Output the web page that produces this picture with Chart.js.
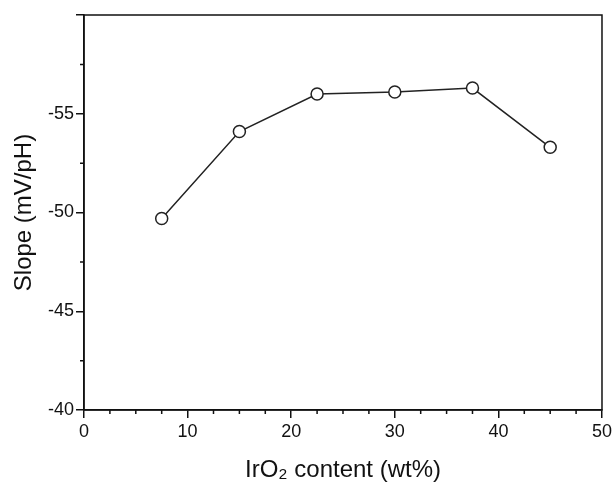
<!DOCTYPE html>
<html>
<head>
<meta charset="utf-8">
<script src="https://cdn.jsdelivr.net/npm/chart.js@4"></script>
<style>
  body { margin: 0; background: #fff; }
</style>
</head>
<body>
<canvas id="myChart" width="615" height="482"></canvas>
<script>
const irContent = [7.5, 15, 22.5, 30, 37.5, 45];
const slopeValues = [-49.7, -54.1, -56.0, -56.1, -56.3, -53.3];
const xTickLabels = [0, 10, 20, 30, 40, 50];
const yTickLabels = [-40, -45, -50, -55];
const yMajorTicks = [-40, -45, -50, -55, -60];

// box around the plot + short minor ticks
const frame = {
    id: 'frame',
    afterDraw(chart) {
        const { ctx, chartArea, scales } = chart;
        ctx.save();
        ctx.strokeStyle = '#111';
        ctx.lineWidth = 1.5;
        ctx.strokeRect(chartArea.left, chartArea.top, chartArea.right - chartArea.left, chartArea.bottom - chartArea.top);
        ctx.beginPath();
        scales.x.ticks.forEach((t) => {
            if (xTickLabels.includes(t.value)) return;
            const px = scales.x.getPixelForValue(t.value);
            ctx.moveTo(px, chartArea.bottom);
            ctx.lineTo(px, chartArea.bottom + 4);
        });
        scales.y.ticks.forEach((t) => {
            if (yMajorTicks.includes(t.value)) return;
            const py = scales.y.getPixelForValue(t.value);
            ctx.moveTo(chartArea.left, py);
            ctx.lineTo(chartArea.left - 4, py);
        });
        ctx.stroke();
        ctx.restore();
    }
};

const ctx = document.getElementById('myChart');
const font = "'Liberation Sans', Arial, sans-serif";

new Chart(ctx, {
    type: 'line',
    data: {
        datasets: [
            {
                data: irContent.map((x, i) => ({ x, y: slopeValues[i] })),
                borderColor: '#222',
                borderWidth: 1.5,
                backgroundColor: '#fff',
                pointBackgroundColor: '#fff',
                pointBorderColor: '#222',
                pointBorderWidth: 1.5,
                pointRadius: 6,
                tension: 0,
            },
        ],
    },
    options: {
        responsive: false,
        animation: false,
        layout: { padding: { top: 15, right: 12, left: 0, bottom: 0 } },
        plugins: { legend: { display: false }, tooltip: { enabled: false } },
        scales: {
            x: {
                type: 'linear',
                min: 0,
                max: 50,
                afterFit: (s) => { s.height = 72; },
                border: { color: '#111', width: 1.5 },
                grid: {
                    drawOnChartArea: false,
                    tickLength: 8,
                    lineWidth: 1.5,
                    tickColor: (c) => xTickLabels.includes(c.tick.value) ? '#111' : 'rgba(0,0,0,0)',
                },
                ticks: {
                    stepSize: 2.5,
                    autoSkip: false,
                    maxRotation: 0,
                    color: '#111',
                    padding: 3,
                    font: { family: font, size: 18 },
                    callback: (v) => xTickLabels.includes(v) ? v : '',
                },
                title: {
                    display: true,
                    text: 'IrO₂ content (wt%)',
                    color: '#111',
                    font: { family: font, size: 24, lineHeight: 1 },
                    padding: { top: 0, bottom: 0 },
                },
            },
            y: {
                min: -60,
                max: -40,
                reverse: true,
                afterFit: (s) => { s.width = 84; },
                border: { color: '#111', width: 1.5 },
                grid: {
                    drawOnChartArea: false,
                    tickLength: 8,
                    lineWidth: 1.5,
                    tickColor: (c) => yMajorTicks.includes(c.tick.value) ? '#111' : 'rgba(0,0,0,0)',
                },
                ticks: {
                    stepSize: 2.5,
                    autoSkip: false,
                    color: '#111',
                    padding: 2,
                    font: { family: font, size: 18 },
                    callback: (v) => yTickLabels.includes(v) ? v : '',
                },
                title: {
                    display: true,
                    text: 'Slope (mV/pH)',
                    color: '#111',
                    font: { family: font, size: 24, lineHeight: 1 },
                    padding: { top: 12, bottom: 0 },
                },
            },
        },
    },
    plugins: [frame],
});
</script>
</body>
</html>
